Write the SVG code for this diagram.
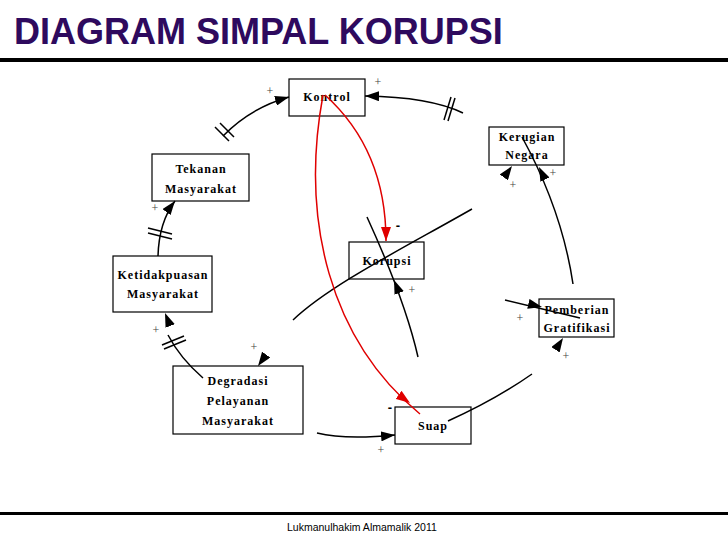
<svg xmlns="http://www.w3.org/2000/svg" width="728" height="546" viewBox="0 0 728 546">
<style>
.box{fill:#fff;stroke:#000;stroke-width:1.2}
.lbl{font-family:"Liberation Serif",serif;font-weight:bold;font-size:12px;letter-spacing:1px;text-anchor:middle;fill:#000}
.ln{fill:none;stroke:#000;stroke-width:1.5}
.red{fill:none;stroke:#e00000;stroke-width:1.5}
.hash{stroke:#000;stroke-width:1.5}
.arr{fill:none;stroke:none}
.pl{font-family:"Liberation Serif",serif;font-size:12px;fill:#444;text-anchor:middle}
.mn{font-family:"Liberation Sans",sans-serif;font-weight:bold;font-size:13px;fill:#000;text-anchor:middle}
</style>
<defs>
<marker id="ah" markerUnits="userSpaceOnUse" markerWidth="14" markerHeight="10" refX="14" refY="5" orient="auto"><path d="M0,0 L14,5 L0,10 z" fill="#000"/></marker>
<marker id="ahr" markerUnits="userSpaceOnUse" markerWidth="14" markerHeight="10" refX="14" refY="5" orient="auto"><path d="M0,0 L14,5 L0,10 z" fill="#e00000"/></marker>
</defs>
<rect width="728" height="546" fill="#fff"/>
<text x="14" y="44" font-family="Liberation Sans,Arial,sans-serif" font-weight="bold" font-size="36" fill="#2e0a5e">DIAGRAM SIMPAL KORUPSI</text>
<rect x="0" y="58" width="728" height="4" fill="#000"/>
<rect x="0" y="512" width="728" height="3" fill="#000"/>
<text x="287" y="531" font-family="Liberation Sans,Arial,sans-serif" font-size="10.5" fill="#000">Lukmanulhakim Almamalik 2011</text>

<g id="nodes">
<g id="kontrol"><rect class="box" x="289" y="79" width="76" height="37"/><text class="lbl" x="327" y="101">Kontrol</text></g>
<g id="kerugian"><rect class="box" x="489" y="127" width="75" height="38"/><text class="lbl" x="527" y="141">Kerugian</text><text class="lbl" x="527" y="159">Negara</text></g>
<g id="tekanan"><rect class="box" x="152" y="154" width="97" height="47"/><text class="lbl" x="201" y="173">Tekanan</text><text class="lbl" x="201" y="193">Masyarakat</text></g>
<g id="ketidakpuasan"><rect class="box" x="113" y="256" width="99" height="56"/><text class="lbl" x="163" y="279">Ketidakpuasan</text><text class="lbl" x="163" y="298">Masyarakat</text></g>
<g id="korupsi"><rect class="box" x="349" y="242" width="75" height="37"/><text class="lbl" x="387" y="265">Korupsi</text></g>
<g id="pemberian"><rect class="box" x="539" y="299" width="75" height="38"/><text class="lbl" x="577" y="314">Pemberian</text><text class="lbl" x="577" y="332">Gratifikasi</text></g>
<g id="degradasi"><rect class="box" x="173" y="366" width="130" height="68"/><text class="lbl" x="238" y="385">Degradasi</text><text class="lbl" x="238" y="405">Pelayanan</text><text class="lbl" x="238" y="425">Masyarakat</text></g>
<g id="suap"><rect class="box" x="395" y="407" width="76" height="37"/><text class="lbl" x="433" y="430">Suap</text></g>
</g>

<g id="connectors">
<!-- Tekanan -> Kontrol -->
<path class="ln" d="M223,136 Q250,108 289,97" marker-end="url(#ah)"/>
<line class="hash" x1="215" y1="127" x2="229" y2="141"/><line class="hash" x1="220" y1="123" x2="234" y2="137"/>
<!-- Kerugian -> Kontrol -->
<path class="ln" d="M463,113 Q430,97 365,96" marker-end="url(#ah)"/>
<line class="hash" x1="444" y1="120" x2="451" y2="97"/><line class="hash" x1="448" y1="121" x2="455" y2="98"/>
<!-- Pemberian -> Kerugian -->
<path class="ln" d="M573,284 Q562,210 522,137"/>
<path class="arr" d="M546,182 L539,167" marker-end="url(#ah)"/>
<!-- arrow into Kerugian bottom-left -->
<path class="arr" d="M502,180 L512,166" marker-end="url(#ah)"/>
<!-- curve through Korupsi -->
<path class="ln" d="M293,320 C330,285 400,250 472,209"/>
<!-- line through Korupsi -->
<path class="ln" d="M367,217 Q405,300 418,357"/>
<path class="arr" d="M400,295 L394,280" marker-end="url(#ah)"/>
<!-- Suap -> Pemberian -->
<path class="ln" d="M448,421 Q495,400 532,374"/>
<path class="arr" d="M554,352 L563,338" marker-end="url(#ah)"/>
<!-- into Pemberian from left -->
<path class="ln" d="M505,300 L580,318"/>
<path class="arr" d="M525,303 L542,307" marker-end="url(#ah)"/>
<!-- Ketidakpuasan -> Tekanan -->
<path class="ln" d="M158,256 Q159,222 175,201" marker-end="url(#ah)"/>
<line class="hash" x1="148" y1="228" x2="172" y2="234"/><line class="hash" x1="148" y1="233" x2="172" y2="239"/>
<!-- Degradasi -> Ketidakpuasan -->
<path class="ln" d="M203,378 Q180,358 168,335"/>
<line class="hash" x1="162" y1="345" x2="184" y2="336"/><line class="hash" x1="164" y1="349" x2="186" y2="340"/>
<path class="arr" d="M171,328 L165,313" marker-end="url(#ah)"/>
<!-- arrow into Degradasi top -->
<path class="arr" d="M268,352 L258,366" marker-end="url(#ah)"/>
<!-- arrow into Suap from left -->
<path class="ln" d="M317,433 Q345,440 395,435" marker-end="url(#ah)"/>
<!-- red: Kontrol -> Korupsi -->
<path class="red" d="M325,95 Q386,150 386,241" marker-end="url(#ahr)"/>
<!-- red: Kontrol -> Suap -->
<path class="red" d="M323,95 C300,220 330,340 420,414"/>
<path class="arr" d="M396,393 L410,403" marker-end="url(#ahr)"/>
</g>

<g id="signs">
<text class="pl" x="270" y="95">+</text>
<text class="pl" x="378" y="86">+</text>
<text class="pl" x="513" y="189">+</text>
<text class="pl" x="553" y="177">+</text>
<text class="pl" x="155" y="212">+</text>
<text class="pl" x="156" y="334">+</text>
<text class="pl" x="254" y="351">+</text>
<text class="pl" x="412" y="294">+</text>
<text class="pl" x="520" y="322">+</text>
<text class="pl" x="566" y="360">+</text>
<text class="pl" x="381" y="454">+</text>
<text class="mn" x="398" y="230">-</text>
<text class="mn" x="390" y="412">-</text>
</g>
</svg>
